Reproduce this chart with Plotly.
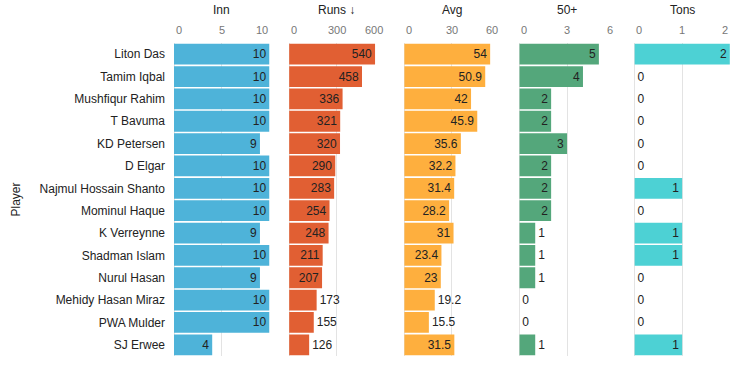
import plotly.graph_objects as go

players = ["Liton Das", "Tamim Iqbal", "Mushfiqur Rahim", "T Bavuma", "KD Petersen",
           "D Elgar", "Najmul Hossain Shanto", "Mominul Haque", "K Verreynne",
           "Shadman Islam", "Nurul Hasan", "Mehidy Hasan Miraz", "PWA Mulder", "SJ Erwee"]
inn = [10, 10, 10, 10, 9, 10, 10, 10, 9, 10, 9, 10, 10, 4]
runs = [540, 458, 336, 321, 320, 290, 283, 254, 248, 211, 207, 173, 155, 126]
avg = [54, 50.9, 42, 45.9, 35.6, 32.2, 31.4, 28.2, 31, 23.4, 23, 19.2, 15.5, 31.5]
fifties = [5, 4, 2, 2, 3, 2, 2, 2, 1, 1, 1, 0, 0, 1]
tons = [2, 0, 0, 0, 0, 0, 1, 0, 1, 1, 0, 0, 0, 1]

titles = ["Inn", "Runs ↓", "Avg", "50+", "Tons"]
series = [inn, runs, avg, fifties, tons]
ranges = [10, 600, 60, 6, 2]
ticks = [[0, 5, 10], [0, 300, 600], [0, 30, 60], [0, 3, 6], [0, 1, 2]]
colors = ["#4EB3D9", "#E15F33", "#FEAF3E", "#54A77B", "#4DD1D4"]

FONT = "Liberation Sans, Arial, sans-serif"
fig = go.Figure()

pw = 95.5 / 556
gap = 19.6 / 556
layout = {}
annotations = []
for i, (t, vals, mx, tv, col) in enumerate(zip(titles, series, ranges, ticks, colors)):
    ax = "x" if i == 0 else f"x{i+1}"
    name = "xaxis" if i == 0 else f"xaxis{i+1}"
    d0 = i * (pw + gap)
    positions = ["inside" if v / mx >= 0.33 else "outside" for v in vals]
    fig.add_trace(go.Bar(
        x=vals, y=players, orientation="h", xaxis=ax, yaxis="y",
        marker=dict(color=col, line=dict(width=0)),
        text=[f"{v:g}" for v in vals], textposition=positions,
        insidetextanchor="end", cliponaxis=False,
        textfont=dict(family=FONT, size=12, color="#222222"),
        insidetextfont=dict(family=FONT, size=12, color="#222222"),
        outsidetextfont=dict(family=FONT, size=12, color="#222222"),
        showlegend=False, hoverinfo="x+y",
    ))
    layout[name] = dict(domain=[d0, d0 + pw], range=[0, mx], anchor="y",
                        tickvals=tv, showticklabels=False, showgrid=True,
                        gridcolor="#E3E3E3", gridwidth=1, zeroline=True,
                        zerolinecolor="#E3E3E3", zerolinewidth=1, showline=False,
                        ticks="", fixedrange=True)
    for j, v in enumerate(tv):
        anchor = "left" if j == 0 else ("right" if j == len(tv) - 1 else "center")
        annotations.append(dict(x=v, y=1, xref=ax, yref="paper", text=str(v),
                                showarrow=False, xanchor=anchor, yanchor="bottom",
                                yshift=5, font=dict(family=FONT, size=11, color="#777777")))
    annotations.append(dict(x=mx / 2, y=1, xref=ax, yref="paper", text=t,
                            showarrow=False, xanchor="center", yanchor="middle",
                            yshift=33, font=dict(family=FONT, size=12, color="#222222")))

annotations.append(dict(x=0, y=0.5, xref="paper", yref="paper", text="Player",
                        showarrow=False, textangle=-90, xanchor="center", yanchor="middle",
                        xshift=-159, font=dict(family=FONT, size=12, color="#222222")))

fig.update_layout(
    width=744, height=381,
    margin=dict(l=174, r=14, t=43, b=25),
    paper_bgcolor="white", plot_bgcolor="white",
    bargap=0.07,
    font=dict(family=FONT, size=12, color="#222222"),
    yaxis=dict(autorange="reversed", showgrid=False, zeroline=False, ticks="",
               ticklabelstandoff=8, tickfont=dict(family=FONT, size=12, color="#222222"),
               fixedrange=True),
    annotations=annotations,
    uniformtext=dict(minsize=12, mode="show"),
    **layout,
)

fig.write_html("out.html", config={"displayModeBar": False},
               post_script="document.body.style.margin='0';document.body.style.overflow='hidden';")
